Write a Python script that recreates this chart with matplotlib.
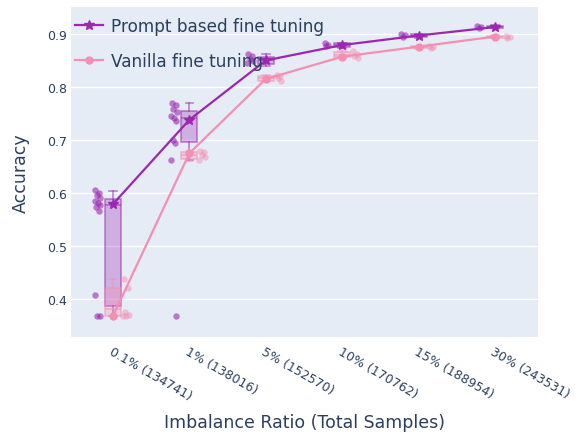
"""Accuracy vs. imbalance ratio: prompt based vs. vanilla fine tuning."""

import matplotlib
matplotlib.use("Agg")

import matplotlib.pyplot as plt
import matplotlib.transforms as mtransforms

# ---- data ----
categories = ["0.1% (134741)", "1% (138016)", "5% (152570)",
              "10% (170762)", "15% (188954)", "30% (243531)"]

prompt_line = [0.579, 0.738, 0.850, 0.879, 0.897, 0.913]
vanilla_line = [0.368, 0.675, 0.815, 0.857, 0.876, 0.895]

prompt_points = [
    [0.605, 0.600, 0.596, 0.590, 0.585, 0.581, 0.577, 0.574, 0.566, 0.408, 0.368, 0.368],
    [0.770, 0.766, 0.758, 0.752, 0.746, 0.741, 0.735, 0.700, 0.695, 0.663, 0.368],
    [0.862, 0.858, 0.853, 0.849, 0.846],
    [0.882, 0.880, 0.877],
    [0.900, 0.898, 0.894],
    [0.915, 0.914, 0.912],
]
vanilla_points = [
    [0.437, 0.420, 0.375, 0.370, 0.368, 0.368],
    [0.680, 0.677, 0.672, 0.668, 0.662],
    [0.823, 0.820, 0.816, 0.812],
    [0.868, 0.862, 0.858, 0.855],
    [0.878, 0.875, 0.873],
    [0.897, 0.895, 0.893],
]

# box statistics (whisker low, q1, median, q3, whisker high)
prompt_lo = [0.368, 0.663, 0.840, 0.874, 0.893, 0.911]
prompt_q1 = [0.387, 0.696, 0.843, 0.875, 0.894, 0.912]
prompt_med = [0.577, 0.741, 0.850, 0.879, 0.897, 0.913]
prompt_q3 = [0.589, 0.755, 0.856, 0.882, 0.899, 0.915]
prompt_hi = [0.604, 0.770, 0.862, 0.883, 0.900, 0.916]

vanilla_lo = [0.368, 0.660, 0.811, 0.855, 0.872, 0.892]
vanilla_q1 = [0.368, 0.664, 0.812, 0.857, 0.873, 0.893]
vanilla_med = [0.380, 0.672, 0.816, 0.860, 0.875, 0.895]
vanilla_q3 = [0.420, 0.677, 0.821, 0.866, 0.877, 0.897]
vanilla_hi = [0.437, 0.680, 0.823, 0.868, 0.878, 0.898]

yticks = [0.4, 0.5, 0.6, 0.7, 0.8, 0.9]

# ---- style ----
BG = "#E5ECF6"
TEXT = "#2a3f5f"
PURPLE = "#9c27b0"
PINK = "#f48fb1"
JITTER = [-0.03, 0.02, -0.01, 0.035, -0.04, 0.0, 0.03, -0.02, 0.01, -0.035, 0.025, -0.005]

plt.rcParams["font.family"] = ["DejaVu Sans"]

fig = plt.figure(figsize=(5.82, 4.39), dpi=100)
ax = fig.add_axes([0.122, 0.230, 0.802, 0.752])
ax.set_facecolor(BG)
fig.patch.set_facecolor("white")


def rgba(color, a):
    return (*matplotlib.colors.to_rgb(color), a)


def stats_for(lo, q1, med, q3, hi):
    return [dict(whislo=a, q1=b, med=c, q3=d, whishi=e, fliers=[])
            for a, b, c, d, e in zip(lo, q1, med, q3, hi)]


def draw_boxes(stats, color):
    pos = list(range(len(stats)))
    edge = rgba(color, 0.55)
    ax.bxp(stats, positions=pos, widths=0.21, patch_artist=True, showfliers=False,
           boxprops=dict(facecolor=rgba(color, 0.3), edgecolor=edge, linewidth=1.2),
           medianprops=dict(color=edge, linewidth=1.2),
           whiskerprops=dict(color=edge, linewidth=1.2),
           capprops=dict(color=edge, linewidth=1.2),
           capwidths=0.1, zorder=2)


def draw_points(groups, color, shift, alpha):
    for i, vals in enumerate(groups):
        xs = [i + shift + JITTER[k % len(JITTER)] for k in range(len(vals))]
        ax.plot(xs, vals, "o", ms=4.6, color=color, alpha=alpha, mec="none", zorder=3)


draw_boxes(stats_for(prompt_lo, prompt_q1, prompt_med, prompt_q3, prompt_hi), PURPLE)
draw_boxes(stats_for(vanilla_lo, vanilla_q1, vanilla_med, vanilla_q3, vanilla_hi), PINK)
draw_points(prompt_points, PURPLE, -0.2, 0.6)
draw_points(vanilla_points, PINK, 0.17, 0.5)

x = list(range(len(categories)))
ax.plot(x, prompt_line, color=PURPLE, lw=1.6, marker="*", ms=7,
        label="Prompt based fine tuning", zorder=5)
ax.plot(x, vanilla_line, color=PINK, lw=1.6, marker="o", ms=5,
        label="Vanilla fine tuning", zorder=5)

ax.set_xlim(-0.55, 5.56)
ax.set_ylim(0.328, 0.951)
ax.set_yticks(yticks)
ax.set_yticklabels([f"{v:.1f}" for v in yticks])
ax.set_xticks(x)
ax.set_xticklabels(categories, rotation=-30, ha="left", va="top", rotation_mode="anchor")
offset = mtransforms.ScaledTranslation(-6 / 100, 2 / 100, fig.dpi_scale_trans)
for lab in ax.get_xticklabels():
    lab.set_transform(lab.get_transform() + offset)
    lab.set_fontsize(9.6)

ax.grid(axis="y", color="white", lw=1)
ax.set_axisbelow(True)
for s in ax.spines.values():
    s.set_visible(False)
ax.tick_params(axis="both", length=0, labelsize=9, colors=TEXT)
ax.tick_params(axis="y", pad=3)
ax.tick_params(axis="x", pad=5)

ax.set_ylabel("Accuracy", fontsize=12.5, color=TEXT, labelpad=12)
ax.set_xlabel("Imbalance Ratio (Total Samples)", fontsize=12.5, color=TEXT, labelpad=8)

leg = ax.legend(loc="upper left", bbox_to_anchor=(-0.005, 0.99), frameon=False,
                fontsize=12.2, labelcolor=TEXT, handlelength=1.6, handletextpad=0.5,
                labelspacing=1.0, borderaxespad=0)

fig.savefig("out.png", dpi=100)
